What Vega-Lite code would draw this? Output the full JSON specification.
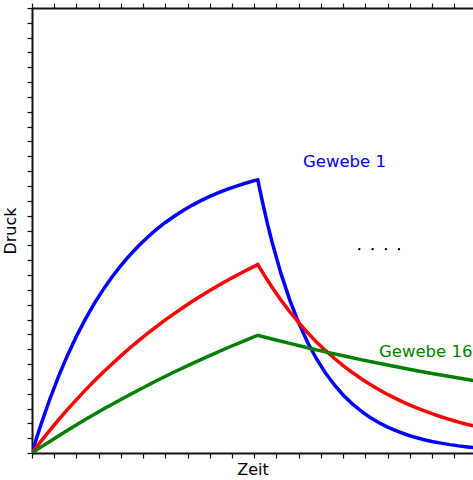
{
  "$schema": "https://vega.github.io/schema/vega-lite/v6.json",
  "width": 441,
  "height": 445,
  "autosize": {"type": "none"},
  "padding": {"left": 32, "top": 8, "right": 0, "bottom": 27},
  "background": "white",
  "config": {
    "view": {"stroke": null},
    "font": "DejaVu Sans",
    "axis": {
      "grid": false,
      "labels": false,
      "domainColor": "#111111",
      "domainWidth": 2,
      "tickColor": "#111111",
      "tickWidth": 1.2,
      "titleFont": "DejaVu Sans",
      "titleFontSize": 16,
      "titleFontWeight": "normal",
      "titleColor": "#000000"
    }
  },
  "datasets": {
    "curves": [
      {"gewebe": "1", "t": 0, "p": 0},
      {"gewebe": "1", "t": 0.05, "p": 0.195},
      {"gewebe": "1", "t": 0.1, "p": 0.381},
      {"gewebe": "1", "t": 0.2, "p": 0.725},
      {"gewebe": "1", "t": 0.3, "p": 1.037},
      {"gewebe": "1", "t": 0.4, "p": 1.319},
      {"gewebe": "1", "t": 0.5, "p": 1.574},
      {"gewebe": "1", "t": 0.6, "p": 1.805},
      {"gewebe": "1", "t": 0.7, "p": 2.014},
      {"gewebe": "1", "t": 0.8, "p": 2.203},
      {"gewebe": "1", "t": 0.9, "p": 2.374},
      {"gewebe": "1", "t": 1.0, "p": 2.528},
      {"gewebe": "1", "t": 1.1, "p": 2.668},
      {"gewebe": "1", "t": 1.2, "p": 2.795},
      {"gewebe": "1", "t": 1.3, "p": 2.91},
      {"gewebe": "1", "t": 1.4, "p": 3.014},
      {"gewebe": "1", "t": 1.5, "p": 3.108},
      {"gewebe": "1", "t": 1.6, "p": 3.192},
      {"gewebe": "1", "t": 1.7, "p": 3.269},
      {"gewebe": "1", "t": 1.8, "p": 3.339},
      {"gewebe": "1", "t": 1.9, "p": 3.402},
      {"gewebe": "1", "t": 2.0, "p": 3.459},
      {"gewebe": "1", "t": 2.1, "p": 3.51},
      {"gewebe": "1", "t": 2.2, "p": 3.557},
      {"gewebe": "1", "t": 2.3, "p": 3.599},
      {"gewebe": "1", "t": 2.4, "p": 3.637},
      {"gewebe": "1", "t": 2.5, "p": 3.672},
      {"gewebe": "1", "t": 2.54, "p": 3.684},
      {"gewebe": "1", "t": 2.59, "p": 3.399},
      {"gewebe": "1", "t": 2.65, "p": 3.087},
      {"gewebe": "1", "t": 2.7, "p": 2.846},
      {"gewebe": "1", "t": 2.8, "p": 2.422},
      {"gewebe": "1", "t": 2.9, "p": 2.062},
      {"gewebe": "1", "t": 3.0, "p": 1.754},
      {"gewebe": "1", "t": 3.1, "p": 1.493},
      {"gewebe": "1", "t": 3.2, "p": 1.271},
      {"gewebe": "1", "t": 3.3, "p": 1.081},
      {"gewebe": "1", "t": 3.4, "p": 0.92},
      {"gewebe": "1", "t": 3.5, "p": 0.783},
      {"gewebe": "1", "t": 3.6, "p": 0.666},
      {"gewebe": "1", "t": 3.7, "p": 0.567},
      {"gewebe": "1", "t": 3.8, "p": 0.483},
      {"gewebe": "1", "t": 3.9, "p": 0.411},
      {"gewebe": "1", "t": 4.0, "p": 0.35},
      {"gewebe": "1", "t": 4.1, "p": 0.298},
      {"gewebe": "1", "t": 4.2, "p": 0.253},
      {"gewebe": "1", "t": 4.3, "p": 0.215},
      {"gewebe": "1", "t": 4.4, "p": 0.183},
      {"gewebe": "1", "t": 4.5, "p": 0.156},
      {"gewebe": "1", "t": 4.6, "p": 0.133},
      {"gewebe": "1", "t": 4.7, "p": 0.113},
      {"gewebe": "1", "t": 4.8, "p": 0.096},
      {"gewebe": "1", "t": 4.9, "p": 0.082},
      {"gewebe": "1", "t": 5.0, "p": 0.07},
      {"gewebe": "8", "t": 0, "p": 0},
      {"gewebe": "8", "t": 0.1, "p": 0.156},
      {"gewebe": "8", "t": 0.2, "p": 0.305},
      {"gewebe": "8", "t": 0.3, "p": 0.449},
      {"gewebe": "8", "t": 0.4, "p": 0.587},
      {"gewebe": "8", "t": 0.5, "p": 0.72},
      {"gewebe": "8", "t": 0.6, "p": 0.848},
      {"gewebe": "8", "t": 0.7, "p": 0.97},
      {"gewebe": "8", "t": 0.8, "p": 1.088},
      {"gewebe": "8", "t": 0.9, "p": 1.201},
      {"gewebe": "8", "t": 1.0, "p": 1.31},
      {"gewebe": "8", "t": 1.1, "p": 1.415},
      {"gewebe": "8", "t": 1.2, "p": 1.516},
      {"gewebe": "8", "t": 1.3, "p": 1.612},
      {"gewebe": "8", "t": 1.4, "p": 1.705},
      {"gewebe": "8", "t": 1.5, "p": 1.794},
      {"gewebe": "8", "t": 1.6, "p": 1.88},
      {"gewebe": "8", "t": 1.7, "p": 1.962},
      {"gewebe": "8", "t": 1.8, "p": 2.042},
      {"gewebe": "8", "t": 1.9, "p": 2.118},
      {"gewebe": "8", "t": 2.0, "p": 2.191},
      {"gewebe": "8", "t": 2.1, "p": 2.262},
      {"gewebe": "8", "t": 2.2, "p": 2.329},
      {"gewebe": "8", "t": 2.3, "p": 2.394},
      {"gewebe": "8", "t": 2.4, "p": 2.457},
      {"gewebe": "8", "t": 2.5, "p": 2.517},
      {"gewebe": "8", "t": 2.54, "p": 2.54},
      {"gewebe": "8", "t": 2.6, "p": 2.421},
      {"gewebe": "8", "t": 2.7, "p": 2.235},
      {"gewebe": "8", "t": 2.8, "p": 2.063},
      {"gewebe": "8", "t": 2.9, "p": 1.904},
      {"gewebe": "8", "t": 3.0, "p": 1.758},
      {"gewebe": "8", "t": 3.1, "p": 1.623},
      {"gewebe": "8", "t": 3.2, "p": 1.498},
      {"gewebe": "8", "t": 3.3, "p": 1.383},
      {"gewebe": "8", "t": 3.4, "p": 1.277},
      {"gewebe": "8", "t": 3.5, "p": 1.178},
      {"gewebe": "8", "t": 3.6, "p": 1.088},
      {"gewebe": "8", "t": 3.7, "p": 1.004},
      {"gewebe": "8", "t": 3.8, "p": 0.927},
      {"gewebe": "8", "t": 3.9, "p": 0.856},
      {"gewebe": "8", "t": 4.0, "p": 0.79},
      {"gewebe": "8", "t": 4.1, "p": 0.729},
      {"gewebe": "8", "t": 4.2, "p": 0.673},
      {"gewebe": "8", "t": 4.3, "p": 0.621},
      {"gewebe": "8", "t": 4.4, "p": 0.574},
      {"gewebe": "8", "t": 4.5, "p": 0.53},
      {"gewebe": "8", "t": 4.6, "p": 0.489},
      {"gewebe": "8", "t": 4.7, "p": 0.451},
      {"gewebe": "8", "t": 4.8, "p": 0.417},
      {"gewebe": "8", "t": 4.9, "p": 0.385},
      {"gewebe": "8", "t": 5.0, "p": 0.355},
      {"gewebe": "16", "t": 0, "p": 0},
      {"gewebe": "16", "t": 0.1, "p": 0.079},
      {"gewebe": "16", "t": 0.2, "p": 0.156},
      {"gewebe": "16", "t": 0.4, "p": 0.306},
      {"gewebe": "16", "t": 0.6, "p": 0.451},
      {"gewebe": "16", "t": 0.8, "p": 0.589},
      {"gewebe": "16", "t": 1.0, "p": 0.722},
      {"gewebe": "16", "t": 1.2, "p": 0.85},
      {"gewebe": "16", "t": 1.4, "p": 0.974},
      {"gewebe": "16", "t": 1.6, "p": 1.092},
      {"gewebe": "16", "t": 1.8, "p": 1.205},
      {"gewebe": "16", "t": 2.0, "p": 1.314},
      {"gewebe": "16", "t": 2.2, "p": 1.419},
      {"gewebe": "16", "t": 2.4, "p": 1.52},
      {"gewebe": "16", "t": 2.54, "p": 1.588},
      {"gewebe": "16", "t": 2.7, "p": 1.538},
      {"gewebe": "16", "t": 2.9, "p": 1.478},
      {"gewebe": "16", "t": 3.1, "p": 1.42},
      {"gewebe": "16", "t": 3.3, "p": 1.364},
      {"gewebe": "16", "t": 3.5, "p": 1.311},
      {"gewebe": "16", "t": 3.7, "p": 1.259},
      {"gewebe": "16", "t": 3.9, "p": 1.21},
      {"gewebe": "16", "t": 4.1, "p": 1.162},
      {"gewebe": "16", "t": 4.3, "p": 1.117},
      {"gewebe": "16", "t": 4.5, "p": 1.073},
      {"gewebe": "16", "t": 4.7, "p": 1.031},
      {"gewebe": "16", "t": 4.9, "p": 0.991},
      {"gewebe": "16", "t": 5.0, "p": 0.971}
    ],
    "labels": [
      {"gewebe": "1", "t": 3.048, "p": 3.862, "text": "Gewebe 1"},
      {"gewebe": "16", "t": 3.903, "p": 1.296, "text": "Gewebe 16"}
    ],
    "dots": [
      {"t": 3.682, "p": 2.749},
      {"t": 3.832, "p": 2.749},
      {"t": 3.982, "p": 2.749},
      {"t": 4.128, "p": 2.749}
    ]
  },
  "layer": [
    {
      "data": {"name": "curves"},
      "mark": {"type": "line", "strokeWidth": 3.5, "clip": true, "strokeJoin": "miter"},
      "encoding": {
        "x": {
          "field": "t", "type": "quantitative",
          "scale": {"domain": [0, 4.961], "nice": false, "zero": false},
          "axis": {
            "orient": "bottom",
            "title": "Zeit",
            "titlePadding": 3,
            "values": [0, 0.25, 0.5, 0.75, 1, 1.25, 1.5, 1.75, 2, 2.25, 2.5, 2.75, 3, 3.25, 3.5, 3.75, 4, 4.25, 4.5, 4.75],
            "encode": {"ticks": {"update": {"y2": {"signal": "abs(datum.value - round(datum.value)) < 0.01 ? -7 : -3.5"}}}}
          }
        },
        "y": {
          "field": "p", "type": "quantitative",
          "scale": {"domain": [0, 6], "nice": false, "zero": false},
          "axis": {
            "orient": "left",
            "title": "Druck",
            "titlePadding": 8,
            "values": [0, 0.2, 0.4, 0.6, 0.8, 1, 1.2, 1.4, 1.6, 1.8, 2, 2.2, 2.4, 2.6, 2.8, 3, 3.2, 3.4, 3.6, 3.8, 4, 4.2, 4.4, 4.6, 4.8, 5, 5.2, 5.4, 5.6, 5.8, 6],
            "encode": {"ticks": {"update": {"x2": {"signal": "abs(datum.value - round(datum.value)) < 0.01 ? 7 : 3.5"}}}}
          }
        },
        "color": {
          "field": "gewebe", "type": "nominal",
          "scale": {"domain": ["1", "8", "16"], "range": ["#0000ff", "#ff0000", "#008000"]},
          "legend": null
        },
        "detail": {"field": "gewebe"}
      }
    },
    {
      "data": {"name": "labels"},
      "mark": {"type": "text", "align": "left", "baseline": "alphabetic", "font": "DejaVu Sans", "fontSize": 16.5},
      "encoding": {
        "x": {
          "field": "t", "type": "quantitative",
          "scale": {"domain": [0, 4.961], "nice": false, "zero": false},
          "axis": {
            "orient": "top",
            "title": null,
            "values": [0, 0.25, 0.5, 0.75, 1, 1.25, 1.5, 1.75, 2, 2.25, 2.5, 2.75, 3, 3.25, 3.5, 3.75, 4, 4.25, 4.5, 4.75],
            "encode": {"ticks": {"update": {"y2": {"signal": "abs(datum.value - round(datum.value)) < 0.01 ? 7 : 3.5"}}}}
          }
        },
        "y": {
          "field": "p", "type": "quantitative",
          "scale": {"domain": [0, 6], "nice": false, "zero": false},
          "axis": {
            "orient": "right",
            "title": null,
            "domain": false,
            "values": [0, 0.2, 0.4, 0.6, 0.8, 1, 1.2, 1.4, 1.6, 1.8, 2, 2.2, 2.4, 2.6, 2.8, 3, 3.2, 3.4, 3.6, 3.8, 4, 4.2, 4.4, 4.6, 4.8, 5, 5.2, 5.4, 5.6, 5.8, 6],
            "encode": {"ticks": {"update": {"x2": {"signal": "abs(datum.value - round(datum.value)) < 0.01 ? -7 : -3.5"}}}}
          }
        },
        "color": {
          "field": "gewebe", "type": "nominal",
          "scale": {"domain": ["1", "8", "16"], "range": ["#0000ff", "#ff0000", "#008000"]},
          "legend": null
        },
        "text": {"field": "text"}
      }
    },
    {
      "data": {"name": "dots"},
      "mark": {"type": "point", "filled": true, "shape": "circle", "size": 6, "color": "#000000", "opacity": 1},
      "encoding": {
        "x": {"field": "t", "type": "quantitative", "axis": null},
        "y": {"field": "p", "type": "quantitative", "axis": null}
      }
    }
  ],
  "resolve": {"axis": {"x": "independent", "y": "independent"}}
}
